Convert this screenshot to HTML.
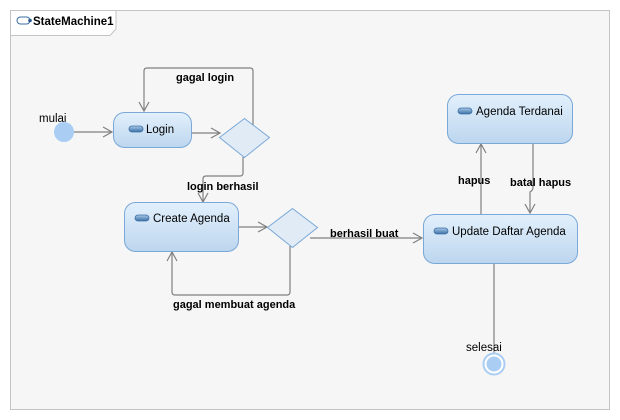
<!DOCTYPE html>
<html><head><style>
body{margin:0;width:620px;height:420px;background:#fff;overflow:hidden}
svg{display:block;font-family:"Liberation Sans","DejaVu Sans",sans-serif}
</style></head><body>
<svg width="620" height="420" viewBox="0 0 620 420">
<defs>
<linearGradient id="g" x1="0" y1="0" x2="0" y2="1">
<stop offset="0" stop-color="#e3f0fc"/><stop offset="1" stop-color="#bcd6ee"/>
</linearGradient>
<linearGradient id="ic" x1="0" y1="0" x2="0" y2="1">
<stop offset="0" stop-color="#a9c8e8"/><stop offset="1" stop-color="#3a6ea5"/>
</linearGradient>
<marker id="a" markerWidth="12" markerHeight="12" refX="10" refY="6" orient="auto" markerUnits="userSpaceOnUse">
<path d="M1,1 L10,6 L1,11" fill="none" stroke="#808080" stroke-width="1.2"/>
</marker>
</defs>
<rect x="10.5" y="10.5" width="599" height="399" fill="#f6f6f6" stroke="#c4c4c4"/>
<path d="M10.5,10.5 H116 V29 L110,35.5 H10.5 Z" fill="#fff" stroke="#c4c4c4"/>
<rect x="17" y="17" width="13" height="7" rx="3.5" fill="#fff" stroke="#3a6ea5"/>
<circle cx="30" cy="20.5" r="1.8" fill="#2c5a8a"/>
<text x="33" y="25" font-size="11.5" font-weight="bold" fill="#000">StateMachine1</text>

<g fill="none" stroke="#808080" stroke-width="1.2">
<path d="M74,132 H112" marker-end="url(#a)"/>
<path d="M191,133 H220" marker-end="url(#a)"/>
<path d="M253,126 V71 Q253,68 250,68 H147 Q144,68 144,71 V111" marker-end="url(#a)"/>
<path d="M243,157 V173 Q243,176 240,176 H206 Q203,176 203,179 V202" marker-end="url(#a)"/>
<path d="M238,227 H267" marker-end="url(#a)"/>
<path d="M290,246 V292 Q290,295 287,295 H175 Q172,295 172,292 V252" marker-end="url(#a)"/>
<path d="M310,238 H422" marker-end="url(#a)"/>
<path d="M481,214 V144" marker-end="url(#a)"/>
<path d="M533,143 V188 Q533,190 530,192 V213" marker-end="url(#a)"/>
<path d="M494,263 V353"/>
</g>

<circle cx="64" cy="132" r="10" fill="#a9cdf3"/>

<g stroke="#7aa8d8" stroke-width="1" fill="url(#g)">
<rect x="113.5" y="112.5" width="78" height="35" rx="11"/>
<rect x="124.5" y="202.5" width="114" height="49" rx="11"/>
<rect x="423.5" y="214.5" width="154" height="49" rx="11"/>
<rect x="447.5" y="94.5" width="125" height="49" rx="11"/>
</g>
<g stroke="#7aa8d8" fill="#e0ebf6">
<path d="M244.5,118.5 L269.5,137.5 L244.5,157.5 L219.5,137.5 Z"/>
<path d="M292.5,208.5 L317.5,227.5 L292.5,247.5 L267.5,227.5 Z"/>
</g>

<g fill="url(#ic)" stroke="#3a6ea5" stroke-width="0.8">
<rect x="129" y="126" width="14" height="6" rx="3"/>
<rect x="135" y="215" width="14" height="6" rx="3"/>
<rect x="434" y="228" width="14" height="6" rx="3"/>
<rect x="458" y="108" width="14" height="6" rx="3"/>
</g>

<circle cx="494" cy="364" r="10.5" fill="#fff" stroke="#a9cdf3" stroke-width="2"/>
<circle cx="494" cy="364" r="7.5" fill="#a9cdf3"/>

<g font-size="11.5" fill="#000">
<text x="146" y="133">Login</text>
<text x="153" y="222">Create Agenda</text>
<text x="452" y="235">Update Daftar Agenda</text>
<text x="476" y="115">Agenda Terdanai</text>
<text x="39" y="122">mulai</text>
<text x="466" y="351">selesai</text>
</g>
<g font-size="11" font-weight="bold" fill="#000">
<text x="176" y="81">gagal login</text>
<text x="187" y="190">login berhasil</text>
<text x="173" y="308">gagal membuat agenda</text>
<text x="330" y="237">berhasil buat</text>
<text x="458" y="184">hapus</text>
<text x="510" y="186">batal hapus</text>
</g>
</svg>
</body></html>
